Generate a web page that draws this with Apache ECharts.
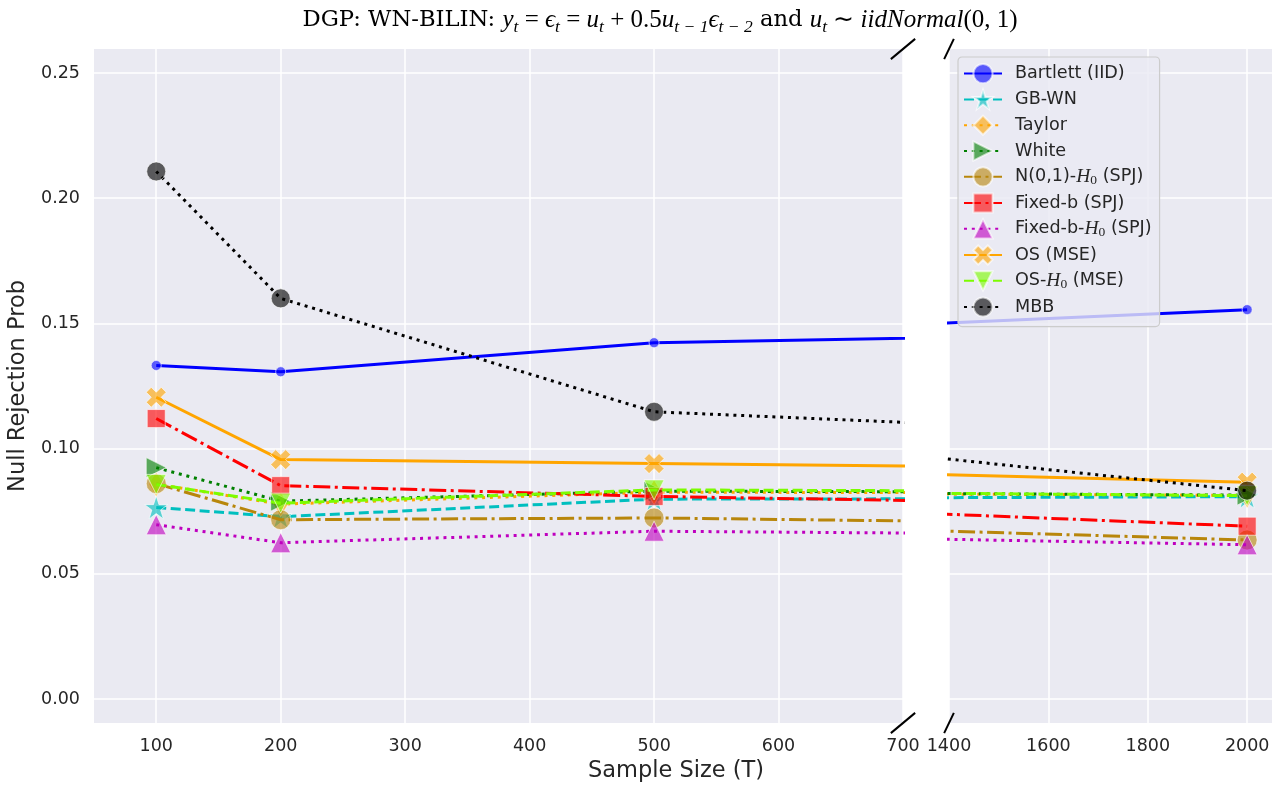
<!DOCTYPE html>
<html>
<head>
<meta charset="utf-8">
<script src="https://cdn.jsdelivr.net/npm/echarts@6/dist/echarts.min.js"></script>
<style>
  html, body { margin: 0; padding: 0; background: #ffffff; }
  #chart { width: 1282px; height: 789px; }
</style>
</head>
<body>
<div id="chart"></div>
<script>
// Sample sizes (x) and null rejection probabilities per method
const sampleSizes = [100, 200, 500, 2000];
const bartlett  = [0.1332, 0.1307, 0.1423, 0.1555];
const gbWn      = [0.0765, 0.0728, 0.0798, 0.0808];
const taylor    = [0.0858, 0.0778, 0.0826, 0.0813];
const white     = [0.0924, 0.0790, 0.0830, 0.0814];
const normalH0  = [0.0860, 0.0716, 0.0723, 0.0635];
const fixedB    = [0.1120, 0.0852, 0.0809, 0.0690];
const fixedBH0  = [0.0696, 0.0624, 0.0670, 0.0616];
const osMse     = [0.1205, 0.0956, 0.0940, 0.0866];
const osH0Mse   = [0.0857, 0.0782, 0.0835, 0.0812];
const mbb       = [0.2107, 0.1600, 0.1147, 0.0832];

// Tick labels
const leftTicks  = [100, 200, 300, 400, 500, 600, 700];
const rightTicks = [1400, 1600, 1800, 2000];
const yTicks     = [0, 0.05, 0.10, 0.15, 0.20, 0.25];

const methodNames = ['Bartlett (IID)', 'GB-WN', 'Taylor', 'White', 'N(0,1)-H0 (SPJ)',
  'Fixed-b (SPJ)', 'Fixed-b-H0 (SPJ)', 'OS (MSE)', 'OS-H0 (MSE)', 'MBB'];
const methodValues = [bartlett, gbWn, taylor, white, normalH0, fixedB, fixedBH0, osMse, osH0Mse, mbb];

// Marker shapes
const STAR = 'path://M50,0 L61.8,35.4 L100,35.4 L69.1,57.3 L80.9,93.5 L50,71.5 L19.1,93.5 L30.9,57.3 L0,35.4 L38.2,35.4 Z';
const XMARK = 'path://M1,0 L2,1 L3,0 L4,1 L3,2 L4,3 L3,4 L2,3 L1,4 L0,3 L1,2 L0,1 Z';
const TRI_RIGHT = 'path://M0,0 L2,1 L0,2 Z';
const TRI_DOWN = 'path://M0,0 L2,0 L1,2 Z';

const LW = 3;
const DASHED = [10, 4.5];
const DOTTED = [3, 4.8];
const DASHDOT = [17, 4.5, 3, 4.5];

// Drawing style per method (same order as methodNames)
const styles = [
  { color: '#0000ff', dash: 'solid', symbol: 'circle', size: 10 },
  { color: '#00bfbf', dash: DASHED, symbol: STAR, size: 23 },
  { color: '#ffa500', dash: DOTTED, symbol: 'diamond', size: [15, 25] },
  { color: '#008000', dash: DOTTED, symbol: TRI_RIGHT, size: 20 },
  { color: '#b8860b', dash: DASHDOT, symbol: 'circle', size: 20 },
  { color: '#ff0000', dash: DASHDOT, symbol: 'rect', size: 18 },
  { color: '#bf00bf', dash: DOTTED, symbol: 'triangle', size: 20 },
  { color: '#ffa500', dash: 'solid', symbol: XMARK, size: 20 },
  { color: '#7cfc00', dash: DASHED, symbol: TRI_DOWN, size: 20 },
  { color: '#000000', dash: DOTTED, symbol: 'circle', size: 19 }
];

const TEXT = '#262626';
const GRID_TOP = 49, GRID_H = 674;
const LEFT_X = 94, LEFT_W = 809;
const RIGHT_X = 949, RIGHT_W = 323;

function makeSeries(i, gridIdx) {
  const st = styles[i];
  return {
    type: 'line',
    name: methodNames[i],
    xAxisIndex: gridIdx,
    yAxisIndex: gridIdx,
    data: sampleSizes.map((x, k) => [x, methodValues[i][k]]),
    clip: true,
    symbol: st.symbol,
    symbolSize: st.size,
    showAllSymbol: true,
    lineStyle: { color: st.color, width: LW, type: st.dash, cap: 'butt', opacity: 1 },
    itemStyle: { color: st.color, opacity: 0.62, borderColor: '#ffffff', borderWidth: 1 },
    emphasis: { disabled: true },
    animation: false,
    z: 2 + i * 0.01
  };
}

const series = [];
methodNames.forEach((_, i) => {
  series.push(makeSeries(i, 0));
  series.push(makeSeries(i, 1));
});

function legendLabel(name) {
  const parts = name.split('H0');
  if (parts.length === 1) return '{n|' + name + '}';
  return '{n|' + parts[0] + '}{i|H}{s|0}{n|' + parts[1] + '}';
}

// Diagonal break marks at the gap between the two panels
const breakMarks = [];
const dL = 0.015 * LEFT_W, dR = 0.015 * RIGHT_W, dY = 0.015 * GRID_H;
[GRID_TOP, GRID_TOP + GRID_H].forEach(yy => {
  const xl = LEFT_X + LEFT_W;
  breakMarks.push({ type: 'line', silent: true, z: 50,
    shape: { x1: xl - dL, y1: yy + dY, x2: xl + dL, y2: yy - dY },
    style: { stroke: '#000000', lineWidth: 2 } });
  breakMarks.push({ type: 'line', silent: true, z: 50,
    shape: { x1: RIGHT_X - dR, y1: yy + dY, x2: RIGHT_X + dR, y2: yy - dY },
    style: { stroke: '#000000', lineWidth: 2 } });
});

const titleRich = {
  a: { fontFamily: 'DejaVu Serif', fontSize: 22.7, color: TEXT, lineHeight: 32 },
  m: { fontFamily: 'Liberation Serif', fontStyle: 'italic', fontSize: 25, color: TEXT, lineHeight: 32 },
  r: { fontFamily: 'Liberation Serif', fontSize: 25, color: TEXT, lineHeight: 32 },
  s: { fontFamily: 'Liberation Serif', fontStyle: 'italic', fontSize: 17.5, color: TEXT, lineHeight: 17, verticalAlign: 'bottom' }
};
const titleText =
  '{a|DGP: WN-BILIN: }{m|y}{s|t}{r| = }{m|ϵ}{s|t}{r| = }{m|u}{s|t}{r| + 0.5}{m|u}{s|t − 1}{m|ϵ}{s|t − 2}' +
  '{a| and }{m|u}{s|t}{r| ∼ }{m|iidNormal}{r|(0, 1)}';

const chart = echarts.init(document.getElementById('chart'), null, { renderer: 'canvas' });

const tickFont = { color: TEXT, fontSize: 17.5, fontFamily: 'DejaVu Sans', margin: 14 };

chart.setOption({
  animation: false,
  backgroundColor: '#ffffff',
  grid: [
    { left: LEFT_X, top: GRID_TOP, width: LEFT_W, height: GRID_H, show: true, backgroundColor: '#eaeaf2',
      borderWidth: 0, containLabel: false, outerBoundsMode: 'none' },
    { left: RIGHT_X, top: GRID_TOP, width: RIGHT_W, height: GRID_H, show: true, backgroundColor: '#eaeaf2',
      borderWidth: 0, containLabel: false, outerBoundsMode: 'none' }
  ],
  xAxis: [
    {
      type: 'value', gridIndex: 0, min: 50, max: 700,
      axisLine: { show: false },
      axisTick: { show: false, customValues: leftTicks },
      axisLabel: Object.assign({ customValues: leftTicks, formatter: v => String(v) }, tickFont),
      splitLine: { show: true, lineStyle: { color: '#ffffff', width: 1.5 } }
    },
    {
      type: 'value', gridIndex: 1, min: 1400, max: 2050,
      axisLine: { show: false },
      axisTick: { show: false, customValues: rightTicks },
      axisLabel: Object.assign({ customValues: rightTicks, formatter: v => String(v) }, tickFont),
      splitLine: { show: true, lineStyle: { color: '#ffffff', width: 1.5 } }
    }
  ],
  yAxis: [
    {
      type: 'value', gridIndex: 0, min: -0.0096, max: 0.2596,
      axisLine: { show: false },
      axisTick: { show: false, customValues: yTicks },
      axisLabel: Object.assign({ customValues: yTicks, formatter: v => v.toFixed(2) }, tickFont),
      splitLine: { show: true, lineStyle: { color: '#ffffff', width: 1.5 } },
      name: 'Null Rejection Prob', nameLocation: 'middle', nameGap: 61, nameRotate: 90,
      nameTextStyle: { color: TEXT, fontSize: 22.5, fontFamily: 'DejaVu Sans' }
    },
    {
      type: 'value', gridIndex: 1, min: -0.0096, max: 0.2596,
      axisLine: { show: false },
      axisTick: { show: false, customValues: yTicks },
      axisLabel: { show: false, customValues: yTicks },
      splitLine: { show: true, lineStyle: { color: '#ffffff', width: 1.5 } }
    }
  ],
  legend: {
    data: methodNames,
    orient: 'vertical',
    left: 958,
    top: 57,
    itemWidth: 38,
    itemHeight: 24,
    itemGap: 4.6,
    padding: [6, 8, 9, 5],
    backgroundColor: 'rgba(234,234,242,0.8)',
    borderColor: '#cccccc',
    borderWidth: 1.2,
    borderRadius: 4,
    selectedMode: false,
    formatter: legendLabel,
    textStyle: {
      color: TEXT,
      padding: [0, 0, 0, 8],
      rich: {
        n: { fontFamily: 'DejaVu Sans', fontSize: 17.6, color: TEXT, lineHeight: 22 },
        i: { fontFamily: 'Liberation Serif', fontStyle: 'italic', fontSize: 19.5, color: TEXT, lineHeight: 22 },
        s: { fontFamily: 'Liberation Serif', fontSize: 13.5, color: TEXT, lineHeight: 13, verticalAlign: 'bottom' }
      }
    }
  },
  graphic: [
    {
      type: 'text', x: 660, y: 20, silent: true,
      style: { text: titleText, rich: titleRich, align: 'center', verticalAlign: 'middle' }
    },
    {
      type: 'text', x: 676, y: 771, silent: true,
      style: { text: 'Sample Size (T)', fill: TEXT, font: '22.5px "DejaVu Sans"', align: 'center', verticalAlign: 'middle' }
    }
  ].concat(breakMarks),
  series: series
});
</script>
</body>
</html>
